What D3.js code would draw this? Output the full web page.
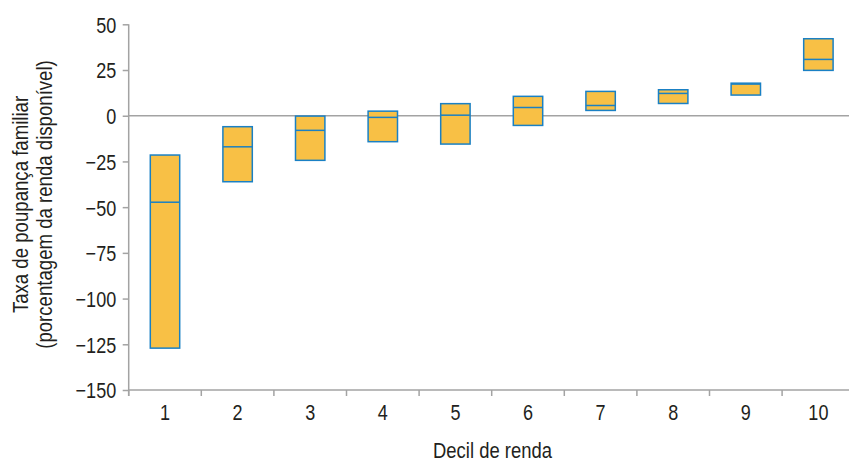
<!DOCTYPE html>
<html>
<head>
<meta charset="utf-8">
<script src="https://cdn.jsdelivr.net/npm/d3@7/dist/d3.min.js"></script>
<style>
  html, body { margin: 0; padding: 0; background: #fff; }
  svg { display: block; }
  text { font-family: "Liberation Sans", Arial, sans-serif; fill: #231f20; }
</style>
</head>
<body>
<svg id="chart" width="849" height="463"></svg>
<script>
const deciles = ["1","2","3","4","5","6","7","8","9","10"];
const highs   = [-21.5, -6.0, -0.2,  2.5,  6.6, 10.6, 13.3, 14.2, 17.8, 42.1];
const medians = [-47.3, -17.0, -8.0, -0.9,  0.3,  4.5,  5.6, 12.2, 17.3, 30.8];
const lows    = [-127.1, -36.1, -24.4, -14.2, -15.5, -5.3,  2.9,  6.7, 11.3, 24.8];
const yTicks  = [50, 25, 0, -25, -50, -75, -100, -125, -150];

const svg = d3.select("#chart");
const axisColor = "#a3a3a3";
const fillColor = "#f8c045";
const strokeColor = "#1a80c4";
const narrow = "scale(0.82,1)";
const fs = "22px";

const y = d3.scaleLinear().domain([-150, 50]).range([390, 24.3]);
const x = d3.scaleBand().domain(deciles).range([128.7, 854.7]).padding(0);
const boxW = x.bandwidth() * 0.405;

// zero line
svg.append("line")
  .attr("x1", 128.7).attr("x2", 849)
  .attr("y1", y(0)).attr("y2", y(0))
  .attr("stroke", axisColor).attr("stroke-width", 1.5);

// y axis
const yAxis = d3.axisLeft(y).tickValues(yTicks).tickSize(6).tickPadding(6)
  .tickFormat(d => d < 0 ? "\u2212" + Math.abs(d) : String(d));
const gy = svg.append("g").attr("transform", "translate(128.7,0)").call(yAxis);
gy.select(".domain").attr("stroke", axisColor).attr("stroke-width", 1.5)
  .attr("d", `M0,${y(50)}V${y(-150) + 6}`);
gy.selectAll(".tick line").attr("stroke", axisColor).attr("stroke-width", 1.5);
gy.selectAll(".tick text")
  .attr("x", 0).attr("dy", "0.36em")
  .attr("transform", "translate(-12.5,0) " + narrow)
  .style("font-size", fs);

// x axis
const xAxis = d3.axisBottom(x).tickSize(0).tickPadding(0);
const gx = svg.append("g").attr("transform", `translate(0,${y(-150)})`).call(xAxis);
gx.select(".domain").attr("stroke", axisColor).attr("stroke-width", 1.5)
  .attr("d", `M128.7,0H849`);
gx.selectAll(".tick text")
  .attr("y", 0).attr("dy", 0)
  .attr("transform", "translate(0,30) " + narrow)
  .style("font-size", fs);
gx.selectAll(".edge").data(deciles).enter().append("line")
  .attr("class", "edge")
  .attr("x1", d => x(d)).attr("x2", d => x(d))
  .attr("y1", 0).attr("y2", 6)
  .attr("stroke", axisColor).attr("stroke-width", 1.5);

// boxes
const data = deciles.map((d, i) => ({ d, hi: highs[i], med: medians[i], lo: lows[i] }));
const g = svg.append("g");
g.selectAll("rect.box").data(data).enter().append("rect")
  .attr("class", "box")
  .attr("x", d => x(d.d) + x.bandwidth() / 2 - boxW / 2)
  .attr("width", boxW)
  .attr("y", d => y(d.hi))
  .attr("height", d => y(d.lo) - y(d.hi))
  .attr("fill", fillColor)
  .attr("stroke", strokeColor).attr("stroke-width", 1.5);
g.selectAll("line.med").data(data).enter().append("line")
  .attr("class", "med")
  .attr("x1", d => x(d.d) + x.bandwidth() / 2 - boxW / 2)
  .attr("x2", d => x(d.d) + x.bandwidth() / 2 + boxW / 2)
  .attr("y1", d => y(d.med)).attr("y2", d => y(d.med))
  .attr("stroke", strokeColor).attr("stroke-width", 1.5);

// titles
svg.append("text")
  .attr("transform", "translate(492.5,458) " + narrow)
  .attr("text-anchor", "middle")
  .style("font-size", "22.5px")
  .text("Decil de renda");

const yt = svg.append("text")
  .attr("transform", "translate(0,204.5) rotate(-90) " + narrow)
  .attr("text-anchor", "middle")
  .style("font-size", "22.7px");
yt.append("tspan").attr("x", 0).attr("y", 28.5).text("Taxa de poupança familiar");
yt.append("tspan").attr("x", 0).attr("y", 52.5).text("(porcentagem da renda disponível)");
</script>
</body>
</html>
